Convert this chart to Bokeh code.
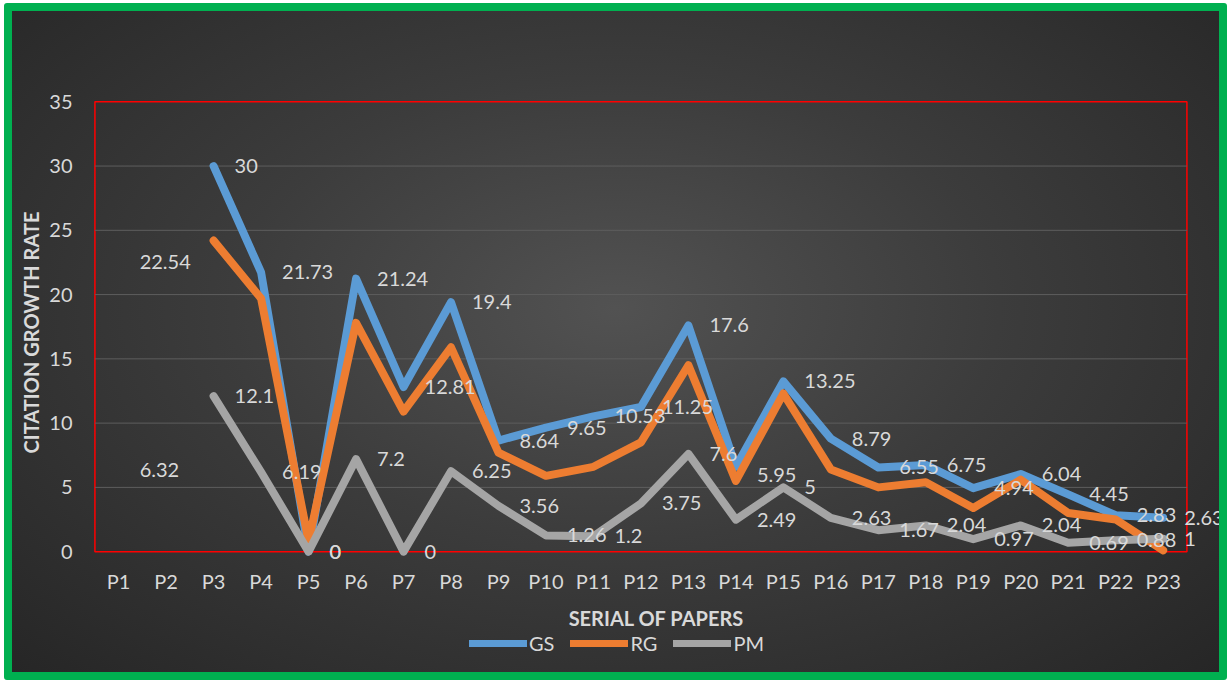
from bokeh.plotting import figure
from bokeh.layouts import column
from bokeh.models import (ColumnDataSource, Range1d, FixedTicker, Legend, LegendItem, Label,
                          BoxAnnotation)
from bokeh.embed import file_html
from bokeh.resources import INLINE

nan = float("nan")

papers = ["P%d" % i for i in range(1, 24)]
gs_values = [22.54, nan, 30, 21.73, 0, 21.24, 12.81, 19.4, 8.64, 9.65, 10.53, 11.25,
             17.6, 6.6, 13.25, 8.79, 6.55, 6.75, 4.94, 6.04, 4.45, 2.83, 2.63]
rg_values = [nan, nan, 24.2, 19.7, 0.8, 17.8, 10.9, 15.9, 7.7, 5.9, 6.6, 8.5,
             14.5, 5.5, 12.3, 6.4, 5.0, 5.4, 3.4, 5.6, 3.0, 2.5, 0.1]
pm_values = [6.32, nan, 12.1, 6.19, 0, 7.2, 0, 6.25, 3.56, 1.26, 1.2, 3.75,
             7.6, 2.49, 5, 2.63, 1.67, 2.04, 0.97, 2.04, 0.69, 0.88, 1]
gs_labels = ["22.54", "", "30", "21.73", "0", "21.24", "12.81", "19.4", "8.64", "9.65",
             "10.53", "11.25", "17.6", "5.95", "13.25", "8.79", "6.55", "6.75", "4.94",
             "6.04", "4.45", "2.83", "2.63"]
pm_labels = ["6.32", "", "12.1", "6.19", "0", "7.2", "0", "6.25", "3.56", "1.26", "1.2",
             "3.75", "7.6", "2.49", "5", "2.63", "1.67", "2.04", "0.97", "2.04", "0.69",
             "0.88", "1"]
series_names = ["GS", "RG", "PM"]
y_ticks = [0, 5, 10, 15, 20, 25, 30, 35]

FONT = "Lato"
TXT = "#d9d9d9"
COLORS = ["#5B9BD5", "#ED7D31", "#A5A5A5"]
all_values = (gs_values, rg_values, pm_values)

n = len(papers)
xs = list(range(1, n + 1))
PX_PER_X = 1092 / n
W = 1207
LEFT = 81
x_start = 0.47
x_end = x_start + (W - LEFT) / PX_PER_X

p = figure(output_backend="svg", toolbar_location=None,
           frame_width=W - LEFT, frame_height=464,
           x_range=Range1d(x_start, x_end), y_range=Range1d(-1.0, 35.1))
p.min_border_left = LEFT
p.min_border_right = 0
p.min_border_top = 89
p.min_border_bottom = 60
p.background_fill_color = None
p.border_fill_color = None
p.outline_line_color = None
p.xgrid.grid_line_color = None
p.ygrid.grid_line_color = None

# horizontal gridlines inside the chart box
gl = [t for t in y_ticks if 0 < t < 35]
p.segment(x0=[0.5] * len(gl), x1=[n + 0.5] * len(gl), y0=gl, y1=gl,
          line_color="#5e5e5e", line_width=1)

box = BoxAnnotation(left=0.5, right=n + 0.5, bottom=0, top=35, fill_alpha=0,
                    line_color="#FF0000", line_alpha=1.0, line_width=1.5,
                    level="underlay")
p.add_layout(box)

p.yaxis.ticker = FixedTicker(ticks=y_ticks)
p.xaxis.ticker = FixedTicker(ticks=xs)
p.xaxis.major_label_overrides = {i: s for i, s in zip(xs, papers)}
for ax in (p.xaxis, p.yaxis):
    ax.axis_line_color = None
    ax.major_tick_line_color = None
    ax.minor_tick_line_color = None
    ax.major_tick_in = 0
    ax.major_tick_out = 0
    ax.minor_tick_in = 0
    ax.minor_tick_out = 0
    ax.major_label_text_font = FONT
    ax.major_label_text_font_size = "20px"
    ax.major_label_text_color = TXT
    ax.axis_label_text_font = FONT
    ax.axis_label_text_font_size = "20px"
    ax.axis_label_text_font_style = "bold"
    ax.axis_label_text_color = TXT
p.xaxis.major_label_standoff = 4
p.yaxis.major_label_standoff = 21
p.xaxis.axis_label = "SERIAL OF PAPERS"
p.yaxis.axis_label = "CITATION GROWTH RATE"
p.xaxis.axis_label_standoff = 10
p.yaxis.axis_label_standoff = 3

for vals, col in zip(all_values, COLORS):
    src = ColumnDataSource(dict(x=xs, y=vals))
    p.line("x", "y", source=src, line_color=col, line_width=8,
           line_cap="round", line_join="round")

for labs in (gs_labels, pm_labels):
    for x, t in zip(xs, labs):
        if not t:
            continue
        p.add_layout(Label(x=x, y=float(t), text=t, x_offset=21, text_align="left",
                           text_baseline="middle", text_font=FONT,
                           text_font_size="20px", text_color=TXT))

# legend strip below the chart (the series are drawn here out of view, only as legend proxies)
LH = 40
lf = figure(output_backend="svg", toolbar_location=None, width=W, height=LH,
            x_range=Range1d(-100, -99), y_range=Range1d(-100, -99),
            x_axis_location=None, y_axis_location=None)
lf.min_border = 0
lf.min_border_left = 0
lf.min_border_right = 0
lf.min_border_top = 0
lf.min_border_bottom = 0
lf.background_fill_color = None
lf.border_fill_color = None
lf.outline_line_color = None
lf.grid.grid_line_color = None
items = []
for name, vals, col in zip(series_names, all_values, COLORS):
    r = lf.line(x=xs, y=vals, line_color=col, line_width=7, line_cap="round")
    items.append(LegendItem(label=name, renderers=[r]))
legend = Legend(items=items, orientation="horizontal", location=(376, 17))
legend.background_fill_alpha = 0
legend.border_line_color = None
legend.label_text_color = TXT
legend.label_text_font = FONT
legend.label_text_font_size = "20px"
legend.glyph_width = 58
legend.glyph_height = 20
legend.spacing = 16
legend.label_standoff = 2
legend.padding = 0
legend.margin = 0
lf.add_layout(legend, "center")

layout = column(p, lf, spacing=0)
layout.styles = {
    "background": "radial-gradient(ellipse at 50% 45%, #525252 0%, #3c3c3c 45%, #262626 100%)",
    "border": "8px solid #00B050",
    "border-radius": "3px",
    "margin-left": "4px",
    "margin-top": "3px",
}

open("out.html", "w").write(file_html(layout, INLINE))
